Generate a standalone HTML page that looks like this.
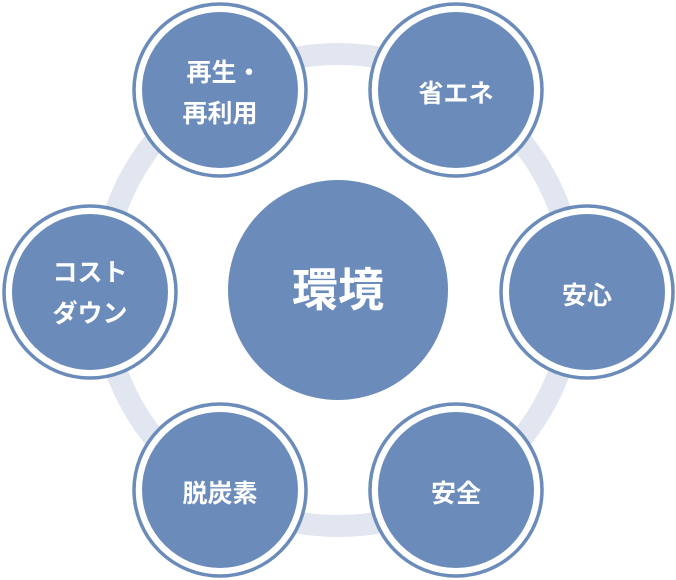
<!DOCTYPE html>
<html><head><meta charset="utf-8"><style>
html,body{margin:0;padding:0;background:#fff;width:676px;height:580px;overflow:hidden}
svg{display:block}
text{font-family:"Liberation Sans","Noto Sans CJK JP",sans-serif;font-weight:bold;fill:#fff;text-anchor:middle}
</style></head><body>
<svg width="676" height="580" viewBox="0 0 676 580">
<circle cx="338" cy="290" r="236" fill="none" stroke="#e1e6f0" stroke-width="22"/>
<circle cx="338" cy="290" r="110" fill="#6b8cba"/>
<text x="338" y="306" font-size="46">環境</text>
<g stroke="#6b8cba" stroke-width="3.5" fill="#fff">
<circle cx="220" cy="90" r="86"/>
<circle cx="456" cy="90" r="86"/>
<circle cx="587" cy="292" r="86"/>
<circle cx="456" cy="490" r="86"/>
<circle cx="220" cy="490" r="86"/>
<circle cx="90" cy="292" r="86"/>
</g>
<g fill="#6b8cba">
<circle cx="220" cy="90" r="78"/>
<circle cx="456" cy="90" r="78"/>
<circle cx="587" cy="292" r="78"/>
<circle cx="456" cy="490" r="78"/>
<circle cx="220" cy="490" r="78"/>
<circle cx="90" cy="292" r="78"/>
</g>
<g font-size="25">
<text x="224" y="81">再生・</text>
<text x="220" y="122">再利用</text>
<text x="456" y="102">省エネ</text>
<text x="587" y="304">安心</text>
<text x="456" y="502">安全</text>
<text x="220" y="502">脱炭素</text>
<text x="90" y="281">コスト</text>
<text x="90" y="322">ダウン</text>
</g>
</svg>
</body></html>
